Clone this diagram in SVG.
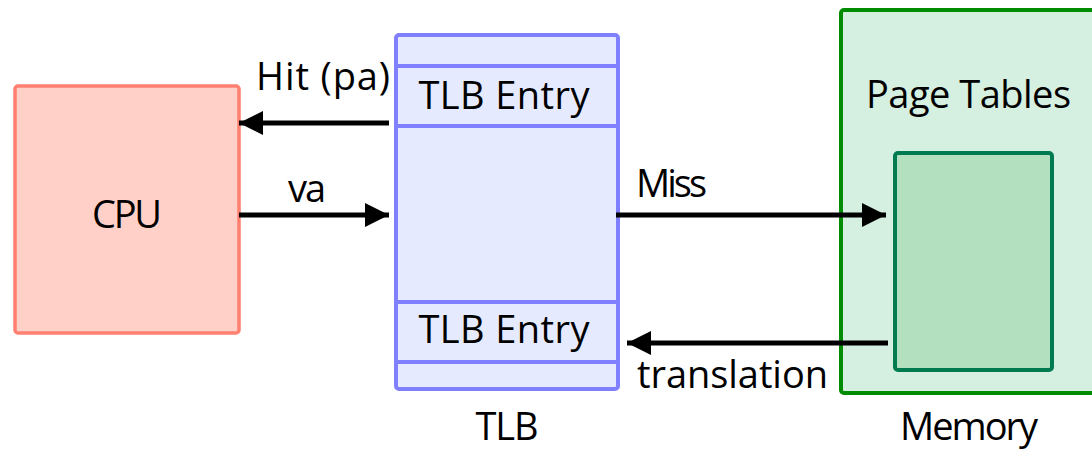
<svg xmlns="http://www.w3.org/2000/svg" width="1092" height="450" viewBox="0 0 1092 450">
<style>
.t{font-family:"Open Sans","DejaVu Sans",sans-serif;font-size:38px;fill:#000;text-anchor:middle}
.c{stroke:#000;stroke-width:5;fill:none}
.sep{stroke:#8080FF;stroke-width:4}
</style>
<defs>
<marker id="ah" markerUnits="userSpaceOnUse" markerWidth="26" markerHeight="26" refX="24" refY="13" orient="auto">
<polygon points="0,1 24,13 0,25" fill="#000"/>
</marker>
</defs>
<rect width="1092" height="450" fill="#fff"/>
<g id="cpu">
<rect x="15" y="86" width="224" height="247" rx="3" fill="#FFD0C8" stroke="#FF8070" stroke-width="3.5"/>
<text class="t" x="127" y="228" textLength="70">CPU</text>
</g>
<g id="tlb">
<rect x="396" y="35" width="222" height="354" rx="3" fill="#E6EAFF" stroke="#8080FF" stroke-width="4"/>
<line class="sep" x1="396" y1="66" x2="616" y2="66"/>
<line class="sep" x1="396" y1="126" x2="616" y2="126"/>
<line class="sep" x1="396" y1="302" x2="616" y2="302"/>
<line class="sep" x1="396" y1="362" x2="616" y2="362"/>
<text class="t" x="504" y="109" textLength="171">TLB Entry</text>
<text class="t" x="504" y="343" textLength="171">TLB Entry</text>
<text class="t" x="507" y="440" textLength="63">TLB</text>
</g>
<g id="memory">
<rect x="841" y="10" width="260" height="383" rx="3" fill="#D5EFE0" stroke="#008C00" stroke-width="4"/>
<text class="t" x="968.5" y="108" textLength="205">Page Tables</text>
<text class="t" x="969" y="440" textLength="138">Memory</text>
</g>
<g id="pagetable">
<rect x="895" y="153" width="157" height="217" rx="3" fill="#B3E0BE" stroke="#007A50" stroke-width="4"/>
</g>
<g id="connectors">
<line class="c" x1="389" y1="123" x2="239" y2="123" marker-end="url(#ah)"/>
<line class="c" x1="239" y1="215" x2="389" y2="215" marker-end="url(#ah)"/>
<line class="c" x1="616" y1="215" x2="886" y2="215" marker-end="url(#ah)"/>
<line class="c" x1="888" y1="343" x2="627" y2="343" marker-end="url(#ah)"/>
<text class="t" x="323" y="90" textLength="134">Hit (pa)</text>
<text class="t" x="307" y="202" textLength="38">va</text>
<text class="t" x="671.5" y="197" textLength="71">Miss</text>
<text class="t" x="732.5" y="388" textLength="191">translation</text>
</g>
</svg>
